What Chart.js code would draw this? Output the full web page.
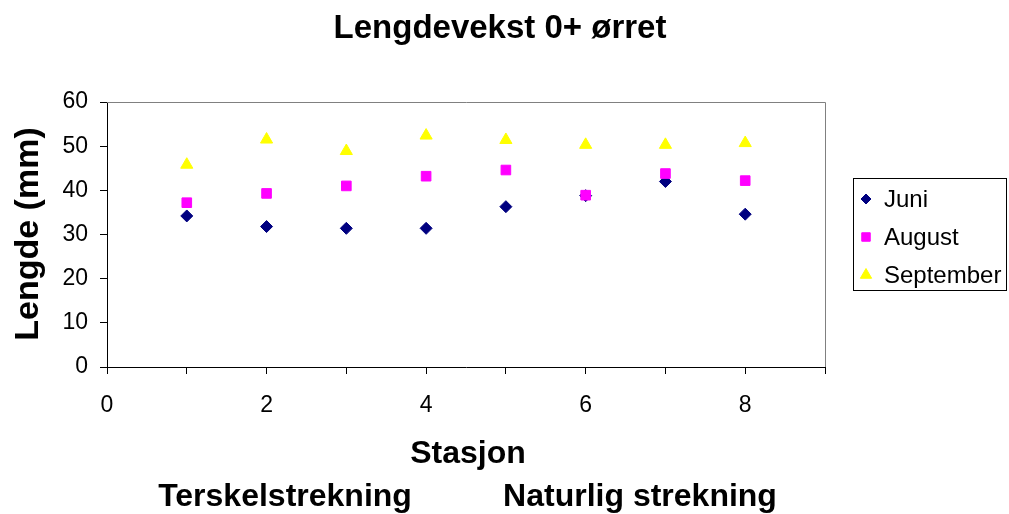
<!DOCTYPE html>
<html><head><meta charset="utf-8">
<script src="https://cdn.jsdelivr.net/npm/chart.js@4/dist/chart.umd.min.js"></script>
<style>html,body{margin:0;padding:0;background:#fff;}canvas{display:block;}</style>
</head><body>
<canvas id="c" width="1009" height="514"></canvas>
<script>
const stations = [1, 2, 3, 4, 5, 6, 7, 8];
const juni = [34.2, 31.8, 31.4, 31.4, 36.3, 38.8, 42.0, 34.6];
const august = [37.2, 39.3, 41.0, 43.2, 44.6, 38.9, 43.8, 42.2];
const september = [45.8, 51.5, 48.9, 52.4, 51.4, 50.3, 50.3, 50.7];
const seriesNames = ['Juni', 'August', 'September'];
const chartTitle = 'Lengdevekst 0+ ørret';
const yTitle = 'Lengde (mm)';
const xTitle = 'Stasjon';
const subLabels = ['Terskelstrekning', 'Naturlig strekning'];

const FONT = '"Liberation Sans", Arial, sans-serif';
const pts = arr => arr.map((v, i) => ({x: stations[i], y: v}));

const textPlugin = {
  id: 'texts',
  afterDraw(chart) {
    const ctx = chart.ctx;
    const ca = chart.chartArea;
    ctx.save();
    ctx.strokeStyle = '#808080';
    ctx.lineWidth = 1;
    ctx.beginPath();
    ctx.moveTo(ca.left, ca.top + 0.5);
    ctx.lineTo(ca.right + 0.5, ca.top + 0.5);
    ctx.lineTo(ca.right + 0.5, ca.bottom);
    ctx.stroke();
    ctx.fillStyle = '#000';
    ctx.textAlign = 'center';
    ctx.textBaseline = 'alphabetic';
    ctx.font = 'bold 33px ' + FONT;
    ctx.fillText(chartTitle, 500, 38);
    ctx.font = 'bold 32px ' + FONT;
    ctx.fillText(xTitle, 468, 463);
    ctx.fillText(subLabels[0], 285, 506);
    ctx.fillText(subLabels[1], 640, 506);
    ctx.save();
    ctx.font = 'bold 34px ' + FONT;
    ctx.translate(38, 234);
    ctx.rotate(-Math.PI / 2);
    ctx.fillText(yTitle, 0, 0);
    ctx.restore();
    // legend
    const lx = 853.5, ly = 178.5, lw = 153, lh = 112;
    ctx.strokeStyle = '#000';
    ctx.strokeRect(lx, ly, lw, lh);
    ctx.font = '24px ' + FONT;
    ctx.textAlign = 'left';
    ctx.textBaseline = 'middle';
    const rows = [199, 237, 275];
    chart.data.datasets.forEach((ds, i) => {
      const opts = {pointStyle: ds.pointStyle, radius: ds.legendRadius, borderWidth: 1};
      ctx.fillStyle = ds.backgroundColor;
      ctx.strokeStyle = ds.borderColor;
      Chart.helpers.drawPoint(ctx, opts, 866, rows[i]);
      ctx.fillStyle = '#000';
      ctx.fillText(ds.label, 884, rows[i] + 1);
    });
    ctx.restore();
  }
};

new Chart(document.getElementById('c'), {
  type: 'scatter',
  data: {
    datasets: [
      {label: seriesNames[0], data: pts(juni), order: 3, pointStyle: 'rectRot', pointRadius: 6, legendRadius: 5,
       backgroundColor: '#000080', borderColor: '#000080', borderWidth: 1},
      {label: seriesNames[1], data: pts(august), order: 2, pointStyle: 'rect', pointRadius: 6.8, legendRadius: 6,
       backgroundColor: '#FF00FF', borderColor: '#FF00FF', borderWidth: 1},
      {label: seriesNames[2], data: pts(september), order: 1, pointStyle: 'triangle', pointRadius: 7, legendRadius: 6.5,
       backgroundColor: '#FFFF00', borderColor: '#FFFF00', borderWidth: 1}
    ]
  },
  options: {
    responsive: false,
    animation: false,
    layout: {padding: {top: 102, right: 184, left: 0, bottom: 0}},
    plugins: {legend: {display: false}, title: {display: false}, tooltip: {enabled: false}},
    scales: {
      x: {
        type: 'linear', min: 0, max: 9,
        afterFit: s => { s.height = 147; },
        afterBuildTicks: s => { s.ticks = [0,1,2,3,4,5,6,7,8,9].map(v => ({value: v})); },
        border: {color: '#000', width: 1},
        grid: {drawOnChartArea: false, color: '#000', tickLength: 7},
        ticks: {
          color: '#000', font: {family: FONT, size: 23}, padding: 18, maxRotation: 0, autoSkip: false,
          callback: v => (v % 2 === 0 && v <= 8) ? String(v) : ''
        }
      },
      y: {
        min: 0, max: 60,
        afterFit: s => { s.width = 107; },
        border: {color: '#000', width: 1},
        grid: {drawOnChartArea: false, color: '#000', tickLength: 7},
        ticks: {stepSize: 10, color: '#000', font: {family: FONT, size: 23}, padding: 12}
      }
    }
  },
  plugins: [textPlugin]
});
</script>
</body></html>
